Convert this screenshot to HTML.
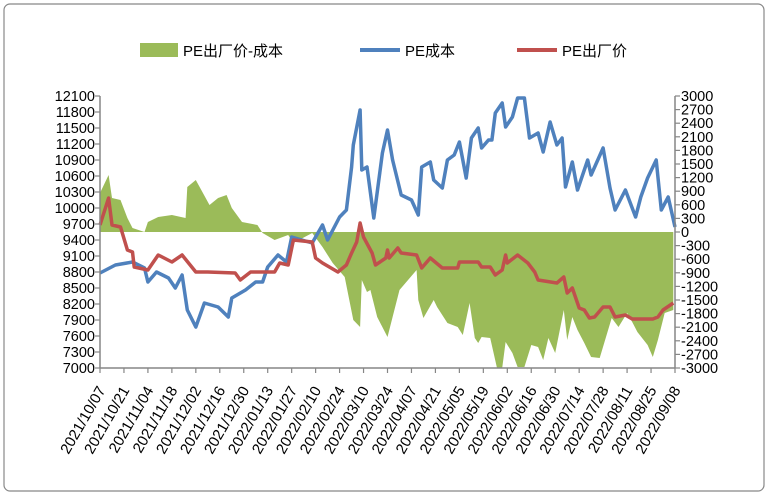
<!DOCTYPE html>
<html><head><meta charset="utf-8"><style>
body{margin:0;background:#fff;}
svg{display:block;font-family:"Liberation Sans","Noto Sans CJK SC",sans-serif;}
</style></head><body>
<svg id="chart" width="769" height="497">
<rect x="4" y="4" width="760" height="487" rx="6" fill="#fff" stroke="#888" stroke-width="1.2"/>
<g>
<rect x="140" y="43" width="38" height="14" fill="#9BBB59"/>
<text x="183" y="56" font-size="15">PE出厂价-成本</text>
<line x1="360" y1="50" x2="400" y2="50" stroke="#4F81BD" stroke-width="4"/>
<text x="405" y="56" font-size="15">PE成本</text>
<line x1="517" y1="50" x2="557" y2="50" stroke="#C0504D" stroke-width="4"/>
<text x="562" y="56" font-size="15">PE出厂价</text>
</g>
<g id="plot"></g>
</svg>
<script>
const costDays=[0,9,19,26,28,33,40,44,48,51,56,61,69,75,77,85,91,95,98,104,109,112,124,130,133,140,144,147,148,152,153,156,160,165,168,171,176,182,186,188,193,195,200,203,207,210,214,217,221,223,227,229,231,235,237,241,244,248,251,256,259,263,267,270,272,276,279,285,287,294,298,301,307,313,316,320,325,328,332,336];
const costValues=[8781,8931,8988,8875,8613,8800,8688,8500,8744,8088,7769,8219,8144,7956,8313,8463,8613,8613,8894,9119,8988,9456,9344,9681,9400,9831,9963,10769,11181,11838,10713,10769,9813,11031,11463,10900,10244,10150,9869,10769,10863,10525,10375,10900,10994,11238,10563,11313,11500,11125,11275,11275,11781,11969,11519,11706,12063,12063,11313,11406,11050,11613,11181,11313,10394,10863,10338,10900,10619,11125,10375,9963,10338,9831,10206,10563,10900,9963,10206,9644];
const priceDays=[0,5,7,12,16,19,20,28,34,42,48,56,63,79,82,88,102,105,110,113,124,126,130,139,144,147,150,152,154,159,161,167,168,169,174,176,185,188,193,200,209,210,221,223,228,231,235,237,238,244,250,254,256,267,271,273,276,280,283,286,289,294,298,301,307,311,323,326,329,335];
const priceValues=[9681,10188,9681,9644,9213,9175,8894,8838,9119,8988,9119,8800,8800,8781,8650,8800,8800,8969,8931,9400,9363,9063,8969,8800,8931,9156,9363,9719,9456,9156,8931,9063,9213,9063,9250,9156,9119,8875,9063,8875,8875,8988,8988,8894,8894,8744,8838,9119,8969,9119,8969,8800,8650,8594,8706,8406,8500,8125,8088,7938,7956,8144,8144,7956,7994,7919,7919,7956,8088,8219];
const spreadDays=[0,5,7,12,16,19,26,28,34,42,50,51,56,64,69,74,77,83,92,95,102,110,113,124,130,136,143,146,148,152,153,156,158,162,168,171,175,185,186,189,195,197,203,209,212,216,219,221,223,228,232,235,237,241,244,248,252,256,259,262,266,271,273,276,279,283,287,292,299,303,308,311,314,320,323,326,330,335];
const spreadValues=[860,1257,750,706,309,88,0,221,331,375,309,993,1147,596,750,816,529,221,154,-22,-176,-66,-243,-22,-331,-684,-993,-1566,-1941,-2096,-1059,-1324,-1279,-1875,-2316,-1875,-1279,-838,-1500,-1897,-1500,-1654,-2007,-2096,-2272,-1566,-2338,-2449,-2316,-2338,-3000,-3000,-2427,-2669,-2978,-2978,-2493,-2537,-2824,-2338,-2669,-1721,-2382,-1875,-2162,-2449,-2758,-2780,-1897,-2096,-1787,-1985,-2206,-2493,-2758,-2382,-1787,-1721];
const leftTicks=[7000,7300,7600,7900,8200,8500,8800,9100,9400,9700,10000,10300,10600,10900,11200,11500,11800,12100];
const rightTicks=[-3000,-2700,-2400,-2100,-1800,-1500,-1200,-900,-600,-300,0,300,600,900,1200,1500,1800,2100,2400,2700,3000];
const dateLabels=["2021/10/07","2021/10/21","2021/11/04","2021/11/18","2021/12/02","2021/12/16","2021/12/30","2022/01/13","2022/01/27","2022/02/10","2022/02/24","2022/03/10","2022/03/24","2022/04/07","2022/04/21","2022/05/05","2022/05/19","2022/06/02","2022/06/16","2022/06/30","2022/07/14","2022/07/28","2022/08/11","2022/08/25","2022/09/08"];

const X0=100,X1=675,Y0=368,Y1=96,TOTAL=336;
const NS='http://www.w3.org/2000/svg';
const g=document.getElementById('plot');
const xs=d=>X0+d/TOTAL*(X1-X0);
const yl=v=>Y0-(v-7000)/(12100-7000)*(Y0-Y1);
const yr=v=>Y0-(v+3000)/6000*(Y0-Y1);
function mk(tag,attrs){const e=document.createElementNS(NS,tag);for(const k in attrs)e.setAttribute(k,attrs[k]);g.appendChild(e);return e;}

let d='M'+xs(spreadDays[0])+','+yr(0);
spreadDays.forEach((dd,i)=>{d+=' L'+xs(dd).toFixed(1)+','+yr(spreadValues[i]).toFixed(1);});
d+=' L'+xs(spreadDays[spreadDays.length-1])+','+yr(0)+' Z';
const area=mk('path',{d:d,fill:'#9BBB59'});



function line(days,vals,color,name){
  const p=days.map((dd,i)=>xs(dd).toFixed(1)+','+yl(vals[i]).toFixed(1)).join(' ');
  const e=mk('polyline',{points:p,fill:'none',stroke:color,'stroke-width':3.5,'stroke-linejoin':'round'});
  
  
}
line(costDays,costValues,'#4F81BD','cost-line');
line(priceDays,priceValues,'#C0504D','price-line');

const axl=mk('line',{x1:X0,y1:Y1,x2:X0,y2:Y0,stroke:'#868686','stroke-width':1.5});


const axr=mk('line',{x1:X1,y1:Y1,x2:X1,y2:Y0,stroke:'#868686','stroke-width':1.5});


const axb=mk('line',{x1:X0,y1:Y0,x2:X1,y2:Y0,stroke:'#868686','stroke-width':1.5});



leftTicks.forEach(v=>{
  const y=yl(v);
  mk('line',{x1:X0-5,y1:y,x2:X0,y2:y,stroke:'#868686','stroke-width':1.2});
  const t=mk('text',{x:X0-5,y:y+5,'font-size':14.5,'text-anchor':'end'});
  t.textContent=v;
  
  
});
rightTicks.forEach(v=>{
  const y=yr(v);
  mk('line',{x1:X1,y1:y,x2:X1+5,y2:y,stroke:'#868686','stroke-width':1.2});
  const t=mk('text',{x:X1+6,y:y+5,'font-size':14.5});
  t.textContent=v;
  
  
});
dateLabels.forEach((s,i)=>{
  const x=X0+i*(X1-X0)/(dateLabels.length-1);
  mk('line',{x1:x,y1:Y0,x2:x,y2:Y0+5,stroke:'#868686','stroke-width':1.2});
  const t=mk('text',{x:0,y:0,'font-size':15,'text-anchor':'end',transform:'translate('+(x+6)+','+(Y0+22)+') rotate(-60)'});
  t.textContent=s;
  
  
});
</script>
</body></html>
